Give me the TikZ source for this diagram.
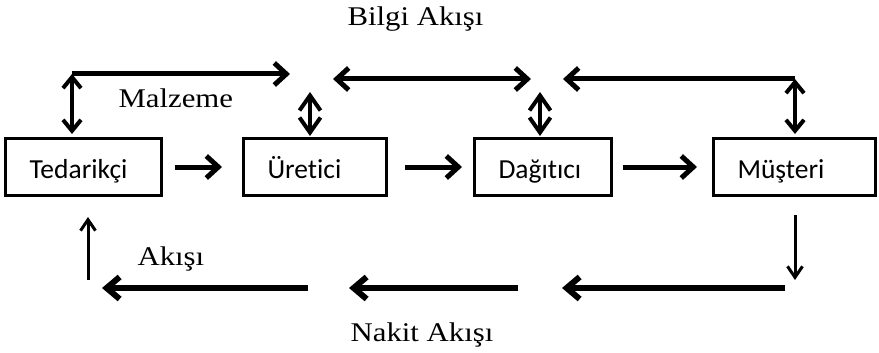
\documentclass[tikz,border=0pt]{standalone}
\usepackage{fontspec}
\setmainfont{Liberation Serif}[FakeStretch=1.14]
\newfontfamily\boxfont{Carlito}[Ligatures=NoCommon]
\usetikzlibrary{arrows.meta}

\begin{document}
\begin{tikzpicture}[x=1pt,y=-1pt,
  actor/.style={draw, line width=3pt, minimum height=57pt, inner xsep=24pt,
    text height=25pt, text depth=3pt,
    align=left, font=\boxfont\fontsize{27.5}{30}\selectfont},
  lbl/.style={anchor=base west, font=\fontsize{27}{30}\selectfont},
  flow/.style={line width=5pt, -{Straight Barb[length=12pt,width=22pt]}},
  bflow/.style={line width=5pt, {Straight Barb[length=12pt,width=22pt]}-{Straight Barb[length=12pt,width=22pt]}},
  dflow/.style={line width=4pt, {Straight Barb[length=11pt,width=18pt]}-{Straight Barb[length=11pt,width=18pt]}},
  sflow/.style={line width=4pt, {Straight Barb[length=15pt,width=21pt]}-{Straight Barb[length=15pt,width=21pt]}},
  cash/.style={line width=6pt, -{Straight Barb[length=13pt,width=22pt]}},
  thinflow/.style={line width=3pt, -{Straight Barb[length=11pt,width=15pt]}}]
  \useasboundingbox (0,0) rectangle (879,353);

  \node[actor, text width=108pt] (ted) at (83.5,167) {Tedarikçi};
  \node[actor, text width=95pt] (ure) at (315,167) {Üretici};
  \node[actor, text width=89pt] (dag) at (543,167) {Dağıtıcı};
  \node[actor, text width=114pt] (mus) at (794.5,167) {Müşteri};

  \draw[flow, shorten <=12pt, shorten >=20pt] (ted.east) -- (ure.west);
  \draw[flow, shorten <=17pt, shorten >=11pt] (ure.east) -- (dag.west);
  \draw[flow, shorten <=10pt, shorten >=15pt] (dag.east) -- (mus.west);

  \coordinate (tl) at (72,74);
  \coordinate (tlE) at (290,74);
  \coordinate (tmW) at (333,79);
  \coordinate (tmE) at (531,79);
  \coordinate (tr) at (795,79);
  \coordinate (trW) at (563,79);
  \coordinate (uc) at (310,92);
  \coordinate (dc) at (540,92);
  \draw[flow] (tl) -- (tlE);
  \draw[dflow, shorten >=3pt] (tl) -- (tl |- ted.north);
  \draw[bflow] (tmW) -- (tmE);
  \draw[flow] (tr) -- (trW);
  \draw[dflow, shorten >=3pt] (tr) -- (tr |- mus.north);
  \draw[sflow, shorten >=1pt] (uc) -- (uc |- ure.north);
  \draw[sflow, shorten >=1pt] (dc) -- (dc |- dag.north);

  \coordinate (cr) at (795,280);
  \coordinate (cl) at (88,280);
  \coordinate (c1) at (785,288);
  \coordinate (c2) at (562,288);
  \coordinate (c3) at (518,288);
  \coordinate (c4) at (349,288);
  \coordinate (c5) at (308,288);
  \coordinate (c6) at (102,288);
  \draw[thinflow, shorten <=18pt] (mus.south -| cr) -- (cr);
  \draw[cash] (c1) -- (c2);
  \draw[cash] (c3) -- (c4);
  \draw[cash] (c5) -- (c6);
  \draw[thinflow, shorten >=20pt] (cl) -- (cl |- ted.south);

  \node[lbl, anchor=base] (bilgi) at (415.5,26) {Bilgi Akışı};
  \node[lbl] (malz) at (115,107) {Malzeme};
  \node[lbl] (akis) at (134,265) {Akışı};
  \node[lbl, anchor=base] (nakit) at (422,341) {Nakit Akışı};
\end{tikzpicture}
\end{document}
